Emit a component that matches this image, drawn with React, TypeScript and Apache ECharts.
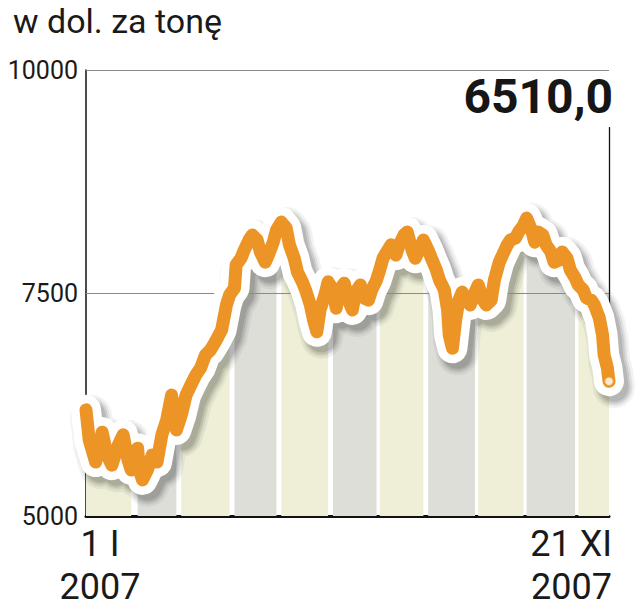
import React, { useEffect, useRef } from "react";
import * as echarts from "echarts";

const TITLE = "w dol. za tonę";
const Y_MIN = 5000;
const Y_MAX = 10000;
const Y_STEP = 2500;
const START_LABEL = ["1 I", "2007"];
const END_LABEL = ["21 XI", "2007"];
// day offsets (from 1 Jan 2007) at which each month starts; last day = 21 Nov
const MONTH_STARTS = [0, 31, 59, 90, 120, 151, 181, 212, 243, 273, 304];
const LAST_DAY = 324;

const DAYS = [
  0, 2, 6, 10, 13, 16, 20, 23, 26, 28, 32, 33, 35, 38, 41, 44, 47, 50, 53, 56,
  59, 62, 65, 68, 71, 74, 77, 80, 84, 87, 89, 92, 93, 96, 98, 101, 103, 106, 108, 111,
  113, 116, 118, 121, 124, 126, 129, 131, 134, 136, 139, 141, 143, 145, 148, 150, 153, 155, 157, 160,
  162, 165, 167, 170, 172, 175, 177, 180, 182, 184, 187, 189, 192, 194, 197, 199, 202, 204, 207, 209,
  212, 214, 217, 219, 222, 224, 225, 227, 229, 231, 233, 236, 238, 241, 243, 246, 248, 251, 253, 256,
  258, 261, 263, 266, 268, 271, 273, 276, 278, 280, 283, 285, 288, 290, 293, 295, 298, 300, 303, 305,
  308, 310, 313, 315, 318, 320, 321, 323, 324,
];

const PRICES = [
  6190, 5850, 5605, 5940, 5685, 5570, 5795, 5910, 5630, 5515, 5760, 5515, 5405, 5515, 5685, 5605, 5910, 6075, 6355, 5965,
  6130, 6355, 6470, 6580, 6660, 6805, 6860, 6950, 7085, 7365, 7480, 7555, 7815, 7890, 7980, 8095, 8150, 8095, 7960, 7845,
  7925, 8070, 8205, 8295, 8230, 8040, 7890, 7735, 7625, 7535, 7365, 7195, 7065, 7310, 7480, 7625, 7535, 7330, 7535, 7610,
  7445, 7310, 7510, 7590, 7445, 7420, 7535, 7645, 7760, 7890, 7980, 8040, 7925, 8040, 8150, 8185, 7980, 7890, 8005, 8095,
  7980, 7890, 7760, 7645, 7535, 7310, 7030, 6880, 7195, 7420, 7510, 7420, 7365, 7510, 7590, 7420, 7365, 7420, 7645, 7845,
  7925, 8040, 8095, 8115, 8185, 8260, 8340, 8205, 8070, 8185, 8150, 8040, 7960, 7845, 7870, 7960, 7890, 7760, 7670, 7590,
  7535, 7445, 7420, 7365, 7220, 7030, 6805, 6660, 6510,
];

const ORANGE = "#ec9426";
const STRIPE_A = "#eeefd6";
const STRIPE_B = "#ddded8";
const FONT = 'Roboto, "Noto Sans", sans-serif';
const TEXT = "#1a1a1a";

export default function App() {
  const ref = useRef<HTMLDivElement>(null);

  useEffect(() => {
    if (!ref.current) return;
    const chart = echarts.init(ref.current, undefined, { renderer: "svg" });

    const points = DAYS.map((d, i) => [d, PRICES[i]]);
    const lastIdx = PRICES.length - 1;
    const lastPoint = [DAYS[lastIdx], PRICES[lastIdx]];
    const lastText = PRICES[lastIdx].toFixed(1).replace(".", ",");

    const monthSeries = MONTH_STARTS.map((s, i) => {
      const e = i + 1 < MONTH_STARTS.length ? MONTH_STARTS[i + 1] : LAST_DAY + 1;
      const data = points.filter((p) => p[0] >= s && p[0] < e);
      return {
        type: "line",
        name: "month" + i,
        data,
        showSymbol: false,
        lineStyle: { opacity: 0 },
        areaStyle: { color: i % 2 === 0 ? STRIPE_A : STRIPE_B, opacity: 1, origin: "start" },
        z: 2,
        silent: true,
      };
    });

    // soft drop shadow of the white outline: stacked translucent strokes
    const shadowLayers = [
      { w: 42, a: 0.05 },
      { w: 37, a: 0.07 },
      { w: 33, a: 0.09 },
      { w: 29, a: 0.1 },
    ];
    const shadowSeries = {
      type: "custom",
      name: "shadow",
      data: [0],
      clip: false,
      silent: true,
      z: 4,
      renderItem: (_p: any, api: any) => {
        const pts = points.map((p) => api.coord(p));
        return {
          type: "group",
          children: shadowLayers.map((l) => ({
            type: "polyline",
            x: 5,
            y: 6,
            shape: { points: pts },
            style: {
              fill: null,
              stroke: `rgba(0,0,0,${l.a})`,
              lineWidth: l.w,
              lineJoin: "round",
              lineCap: "round",
            },
          })),
        };
      },
    };

    const textStyle = (align: string) => ({
      align,
      verticalAlign: "top",
      fontSize: 36,
      fontFamily: FONT,
      fill: TEXT,
    });

    chart.setOption({
      animation: false,
      grid: { left: 86, right: 31, top: 70, bottom: 93, containLabel: false },
      xAxis: {
        type: "value",
        min: 0,
        max: LAST_DAY,
        axisLine: { show: true, lineStyle: { color: "#111", width: 3 } },
        axisTick: { show: false },
        axisLabel: { show: false },
        splitLine: { show: false },
      },
      yAxis: {
        type: "value",
        min: Y_MIN,
        max: Y_MAX,
        interval: Y_STEP,
        axisLine: { show: true, lineStyle: { color: "#111", width: 1.5 } },
        axisTick: { show: false },
        splitLine: { show: false },
        axisLabel: {
          color: TEXT,
          fontSize: 25,
          fontFamily: FONT,
          margin: 8,
          formatter: (v: number) => String(v),
        },
      },
      graphic: [
        {
          type: "text",
          left: 13,
          top: 4,
          z: 100,
          style: { text: TITLE, fontSize: 34, fontFamily: FONT, fill: TEXT },
        },
        {
          type: "text",
          right: 27,
          top: 72,
          z: 100,
          style: {
            text: lastText,
            fontSize: 48,
            fontWeight: "bold",
            fontFamily: FONT,
            fill: "#161616",
          },
        },
        { type: "text", x: 100, y: 526, z: 100, style: { text: START_LABEL[0], ...textStyle("center") } },
        { type: "text", x: 100, y: 569, z: 100, style: { text: START_LABEL[1], ...textStyle("center") } },
        { type: "text", x: 612, y: 526, z: 100, style: { text: END_LABEL[0], ...textStyle("right") } },
        { type: "text", x: 612, y: 569, z: 100, style: { text: END_LABEL[1], ...textStyle("right") } },
      ],
      series: [
        ...monthSeries,
        {
          type: "line",
          name: "grid",
          data: points,
          showSymbol: false,
          lineStyle: { opacity: 0 },
          z: 3,
          silent: true,
          markLine: {
            silent: true,
            symbol: "none",
            label: { show: false },
            lineStyle: { color: "#8a8a8a", width: 1, type: "solid" },
            data: [{ yAxis: 7500 }, { yAxis: Y_MAX }],
          },
        },
        shadowSeries,
        {
          type: "line",
          name: "outline",
          data: points,
          showSymbol: false,
          clip: false,
          z: 5,
          silent: true,
          lineStyle: { color: "#ffffff", width: 30, cap: "round", join: "round" },
        },
        {
          type: "line",
          name: "price",
          data: points,
          showSymbol: false,
          clip: false,
          z: 6,
          silent: true,
          lineStyle: { color: ORANGE, width: 13, cap: "round", join: "round" },
        },
        {
          type: "scatter",
          name: "last",
          data: [lastPoint],
          symbol: "circle",
          symbolSize: 9,
          clip: false,
          z: 7,
          silent: true,
          itemStyle: { color: "#ffffff", borderColor: ORANGE, borderWidth: 1.5 },
          markLine: {
            silent: true,
            symbol: "none",
            label: { show: false },
            lineStyle: { color: "#111", width: 1.3, type: "solid" },
            data: [[{ coord: lastPoint }, { coord: [DAYS[lastIdx], 9360] }]],
          },
        },
      ],
    });

    return () => chart.dispose();
  }, []);

  return (
    <div
      ref={ref}
      style={{ position: "fixed", left: 0, top: 0, width: 640, height: 609, background: "#fff" }}
    />
  );
}
